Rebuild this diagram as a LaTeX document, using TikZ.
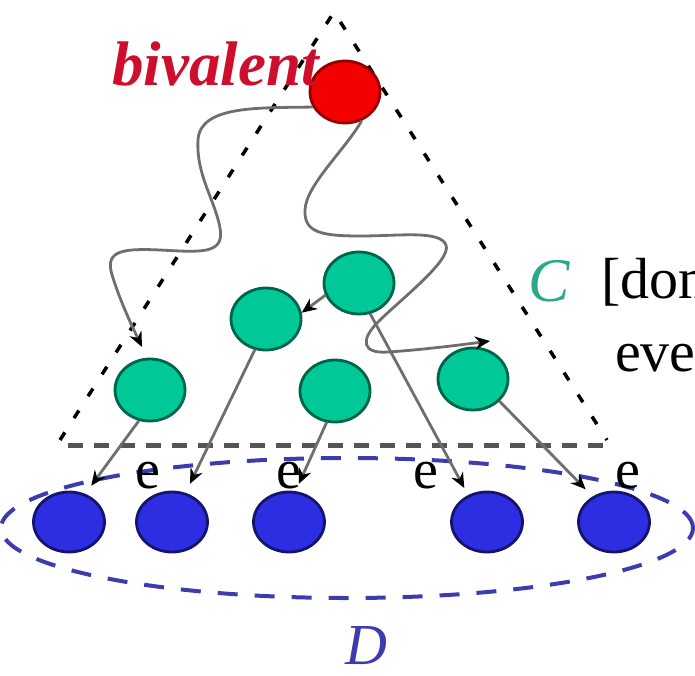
\documentclass[tikz,border=0pt]{standalone}
\usepackage{fontspec}
\setmainfont{Liberation Serif}
\usetikzlibrary{shapes.geometric,arrows.meta}
\definecolor{gfill}{RGB}{0,200,150}
\definecolor{gline}{RGB}{0,100,75}
\definecolor{bfill}{RGB}{45,45,225}
\definecolor{bline}{RGB}{20,20,110}
\definecolor{rfill}{RGB}{245,0,0}
\definecolor{rline}{RGB}{150,0,0}
\definecolor{dblue}{RGB}{60,60,175}
\definecolor{ctext}{RGB}{40,170,135}
\definecolor{redtext}{RGB}{205,15,45}
\definecolor{wire}{RGB}{110,110,110}
\definecolor{basegray}{RGB}{85,85,85}
\tikzset{
  blob/.style={ellipse, inner sep=0pt, minimum width=70pt, minimum height=62pt, line width=2.8pt},
  rednode/.style={blob, fill=rfill, draw=rline},
  greennode/.style={blob, fill=gfill, draw=gline},
  bluenode/.style={blob, fill=bfill, draw=bline, minimum width=71pt, minimum height=60pt},
  wirel/.style={draw=wire, line width=2.8pt, -{Stealth[length=15pt,width=13pt,black]}},
  tridash/.style={black, line width=3.5pt, dash pattern=on 9pt off 17pt},
  basedash/.style={draw=basegray, line width=5pt, dash pattern=on 15pt off 11pt},
  setdash/.style={draw=dblue, line width=4pt, dash pattern=on 20pt off 17pt},
  elabel/.style={inner sep=0pt, anchor=base, font=\fontsize{56}{58}\selectfont},
}
\begin{document}
\begin{tikzpicture}[x=1pt,y=-1pt]
\useasboundingbox (0,0) rectangle (695,676);
\clip (0,0) rectangle (695,676);
% set D
\node[ellipse, setdash, minimum width=692pt, minimum height=140pt, inner sep=0pt] (Dset) at (347,528) {};
% triangle C
\coordinate (Tapex) at (334,12);
\coordinate (Tleft) at (60,440);
\coordinate (Tright) at (607,440);
\coordinate (Bleft) at (68,445);
\coordinate (Bright) at (604,445);
\draw[tridash] (Tleft) -- (Tapex) -- (Tright);
\draw[basedash] (Bleft) -- (Bright);
% nodes
\node[rednode] (R) at (345,92) {};
\node[greennode] (G1) at (150,390) {};
\node[greennode] (G2) at (266,319) {};
\node[greennode] (G3) at (359,283) {};
\node[greennode] (G4) at (335,391) {};
\node[greennode] (G5) at (473,379) {};
\node[bluenode] (B1) at (69,522) {};
\node[bluenode] (B2) at (172,522) {};
\node[bluenode] (B3) at (289,522) {};
\node[bluenode] (B4) at (487,522) {};
\node[bluenode] (B5) at (614,522) {};
% wiggly executions
\draw[wirel] (R.205) .. controls (260,108) and (200,105) .. (198,140)
  .. controls (196,175) and (215,200) .. (220,228)
  .. controls (225,255) and (200,252) .. (160,250)
  .. controls (118,248) and (104,252) .. (113,278)
  .. controls (120,300) and (130,322) .. (142,347);
\draw[wirel] (R.300) .. controls (345,150) and (306,185) .. (305,210)
  .. controls (304,232) and (320,236) .. (360,236)
  .. controls (400,236) and (440,230) .. (446,245)
  .. controls (452,260) and (400,300) .. (378,322)
  .. controls (360,340) and (362,354) .. (388,352)
  .. controls (420,350) and (460,345) .. (490,341);
% straight steps
\draw[wirel] (G3.200) -- (G2.10);
\draw[wirel, shorten >=10pt] (G1.250) -- (B1.60);
\draw[wirel, shorten >=10pt] (G2.250) -- (B2.65);
\draw[wirel, shorten >=8pt] (G4.255) -- (B3.78);
\draw[wirel, shorten >=8pt] (G3.290) -- (B4.125);
\draw[wirel, shorten >=10pt] (G5.320) -- (B5.130);
% labels
\node[anchor=base west, inner sep=0pt, text=redtext, font=\fontsize{63}{65}\selectfont\bfseries\itshape] (biv) at (112,86) {bivalent};
\node[anchor=base west, inner sep=0pt, text=ctext, font=\fontsize{62}{64}\selectfont\itshape] (Clab) at (528,301) {C};
\node[anchor=base west, inner sep=0pt, font=\fontsize{58}{60}\selectfont] (dom) at (601,298) {[dom};
\node[anchor=base west, inner sep=0pt, font=\fontsize{58}{60}\selectfont] (eve) at (615,371) {eve};
\node[anchor=base west, inner sep=0pt, text=dblue, font=\fontsize{58}{60}\selectfont\itshape] (Dlab) at (345,664) {D};
\node[elabel] (e1) at (148,488) {e};
\node[elabel] (e2) at (289,488) {e};
\node[elabel] (e3) at (426,488) {e};
\node[elabel] (e4) at (628,488) {e};
\end{tikzpicture}
\end{document}
